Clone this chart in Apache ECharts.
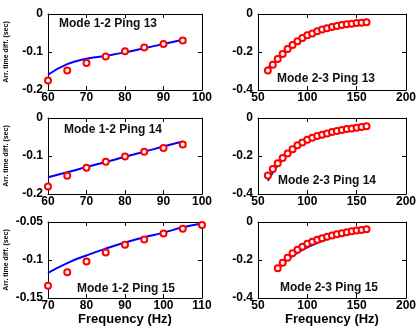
<!DOCTYPE html>
<html>
<head>
<meta charset="utf-8">
<script src="https://cdn.jsdelivr.net/npm/echarts@6/dist/echarts.min.js"></script>
<style>
  html, body { margin: 0; padding: 0; background: #fff; }
  #chart { width: 419px; height: 327px; }
</style>
</head>
<body>
<div id="chart"></div>
<script>
// Mode 1-2, frequencies
const freq12a = [60, 65, 70, 75, 80, 85, 90, 95];
const freq12b = [70, 75, 80, 85, 90, 95, 100, 105, 110];
// Mode 2-3, frequencies
const freq23a = [60, 65, 70, 75, 80, 85, 90, 95, 100, 105, 110, 115, 120, 125, 130, 135, 140, 145, 150, 155, 160];
const freq23b = [70, 75, 80, 85, 90, 95, 100, 105, 110, 115, 120, 125, 130, 135, 140, 145, 150, 155, 160];

// Ping 13
const p13m12Obs = [-0.175, -0.149, -0.129, -0.112, -0.098, -0.088, -0.079, -0.070];
const p13m12Mod = [-0.160, -0.132, -0.118, -0.110, -0.101, -0.090, -0.079, -0.068];
const p13m23Obs = [-0.298, -0.267, -0.237, -0.211, -0.184, -0.163, -0.144, -0.126, -0.112, -0.102, -0.091,
  -0.082, -0.075, -0.068, -0.063, -0.058, -0.054, -0.051, -0.047, -0.046, -0.044];
const p13m23Mod = [-0.285, -0.259, -0.235, -0.212, -0.190, -0.170, -0.152, -0.136, -0.122, -0.110, -0.100,
  -0.092, -0.084, -0.078, -0.072, -0.067, -0.062, -0.058, -0.055, -0.052, -0.050];

// Ping 14
const p14m12Obs = [-0.180, -0.152, -0.131, -0.115, -0.101, -0.089, -0.079, -0.070];
const p14m12Mod = [-0.156, -0.143, -0.129, -0.116, -0.102, -0.089, -0.075, -0.062];
const p14m23Obs = [-0.303, -0.268, -0.238, -0.211, -0.187, -0.164, -0.144, -0.129, -0.115, -0.104, -0.095,
  -0.088, -0.081, -0.074, -0.069, -0.063, -0.058, -0.055, -0.051, -0.048, -0.044];
const p14m23Mod = [-0.330, -0.287, -0.250, -0.219, -0.192, -0.169, -0.150, -0.135, -0.122, -0.110, -0.100,
  -0.092, -0.085, -0.078, -0.072, -0.067, -0.062, -0.057, -0.053, -0.048, -0.044];

// Ping 15
const p15m12Obs = [-0.134, -0.116, -0.102, -0.090, -0.080, -0.073, -0.065, -0.059, -0.054];
const p15m12Mod = [-0.117, -0.104, -0.094, -0.085, -0.077, -0.070, -0.064, -0.057, -0.052];
const p15m23Obs = [-0.243, -0.214, -0.188, -0.165, -0.146, -0.130, -0.115, -0.104, -0.094, -0.085,
  -0.078, -0.071, -0.064, -0.059, -0.054, -0.049, -0.045, -0.042, -0.038];
const p15m23Mod = [-0.245, -0.219, -0.197, -0.178, -0.162, -0.147, -0.134, -0.121, -0.110, -0.100,
  -0.090, -0.081, -0.073, -0.067, -0.061, -0.055, -0.050, -0.045, -0.040];

const panelTitles = ['Mode 1-2 Ping 13', 'Mode 2-3 Ping 13', 'Mode 1-2 Ping 14',
  'Mode 2-3 Ping 14', 'Mode 1-2 Ping 15', 'Mode 2-3 Ping 15'];

const panels = [
  { x: freq12a, obs: p13m12Obs, mod: p13m12Mod, xr: [60, 100, 10], yr: [-0.2, 0, 0.1] },
  { x: freq23a, obs: p13m23Obs, mod: p13m23Mod, xr: [50, 200, 50], yr: [-0.4, 0, 0.2] },
  { x: freq12a, obs: p14m12Obs, mod: p14m12Mod, xr: [60, 100, 10], yr: [-0.2, 0, 0.1] },
  { x: freq23a, obs: p14m23Obs, mod: p14m23Mod, xr: [50, 200, 50], yr: [-0.4, 0, 0.2] },
  { x: freq12b, obs: p15m12Obs, mod: p15m12Mod, xr: [70, 110, 10], yr: [-0.15, -0.05, 0.05] },
  { x: freq23b, obs: p15m23Obs, mod: p15m23Mod, xr: [50, 200, 50], yr: [-0.4, 0, 0.2] }
];

const rowTop = [14, 118, 222];
const colLeft = [48, 258];
const titlePos = [
  { left: 59, top: 18 }, { left: 277, top: 73 },
  { left: 64, top: 124 }, { left: 278, top: 175 },
  { left: 77, top: 283 }, { left: 280, top: 282 }
];

const FONT = 'Liberation Sans, Arial, sans-serif';
const fmt = v => String(+v.toFixed(2));

const grid = [], xAxis = [], yAxis = [], series = [], title = [];

panels.forEach((p, i) => {
  const row = Math.floor(i / 2), col = i % 2;
  grid.push({ left: colLeft[col], top: rowTop[row], width: 154, height: 76 });
  const tick = { show: true, inside: true, length: 4, lineStyle: { color: '#000', width: 1 } };
  const line = { show: true, onZero: false, lineStyle: { color: '#000', width: 1 } };
  const label = { color: '#000', fontFamily: FONT, fontWeight: 'bold', fontSize: 12 };
  xAxis.push({
    type: 'value', gridIndex: i, position: 'bottom',
    min: p.xr[0], max: p.xr[1], interval: p.xr[2],
    axisLine: line, axisTick: tick, splitLine: { show: false },
    axisLabel: Object.assign({ margin: 2, formatter: fmt, showMinLabel: true, showMaxLabel: true }, label),
    name: row === 2 ? 'Frequency (Hz)' : '', nameLocation: 'middle', nameGap: 15,
    nameTextStyle: { color: '#000', fontFamily: FONT, fontWeight: 'bold', fontSize: 13 }
  });
  xAxis.push({
    type: 'value', gridIndex: i, position: 'top',
    min: p.xr[0], max: p.xr[1], interval: p.xr[2],
    axisLine: line, axisTick: tick, axisLabel: { show: false }, splitLine: { show: false }
  });
  yAxis.push({
    type: 'value', gridIndex: i, position: 'left',
    min: p.yr[0], max: p.yr[1], interval: p.yr[2],
    axisLine: line, axisTick: tick, splitLine: { show: false },
    axisLabel: Object.assign({ margin: 5, formatter: fmt }, label),
    name: col === 0 ? 'Arr. time diff. (sec)' : '', nameLocation: 'middle', nameGap: 38,
    nameTextStyle: { color: '#000', fontFamily: FONT, fontWeight: 'bold', fontSize: 7 }
  });
  yAxis.push({
    type: 'value', gridIndex: i, position: 'right',
    min: p.yr[0], max: p.yr[1], interval: p.yr[2],
    axisLine: line, axisTick: tick, axisLabel: { show: false }, splitLine: { show: false }
  });
  series.push({
    type: 'line', xAxisIndex: 2 * i, yAxisIndex: 2 * i,
    data: p.x.map((f, k) => [f, p.mod[k]]),
    smooth: true, showSymbol: false, symbol: 'none',
    lineStyle: { color: '#0000ff', width: 2 }, z: 2
  });
  series.push({
    type: 'scatter', xAxisIndex: 2 * i, yAxisIndex: 2 * i,
    data: p.x.map((f, k) => [f, p.obs[k]]),
    symbol: 'emptyCircle', symbolSize: 6,
    itemStyle: { color: '#ff0000', borderColor: '#ff0000', borderWidth: 1.6, opacity: 1 }, z: 3
  });
  title.push({
    text: panelTitles[i], left: titlePos[i].left, top: titlePos[i].top, padding: 0,
    textStyle: { color: '#111', fontFamily: FONT, fontWeight: 'bold', fontSize: 12 }
  });
});

const chart = echarts.init(document.getElementById('chart'), null, { renderer: 'canvas' });
chart.setOption({
  animation: false,
  backgroundColor: '#fff',
  title: title,
  grid: grid,
  xAxis: xAxis,
  yAxis: yAxis,
  series: series
});
</script>
</body>
</html>
